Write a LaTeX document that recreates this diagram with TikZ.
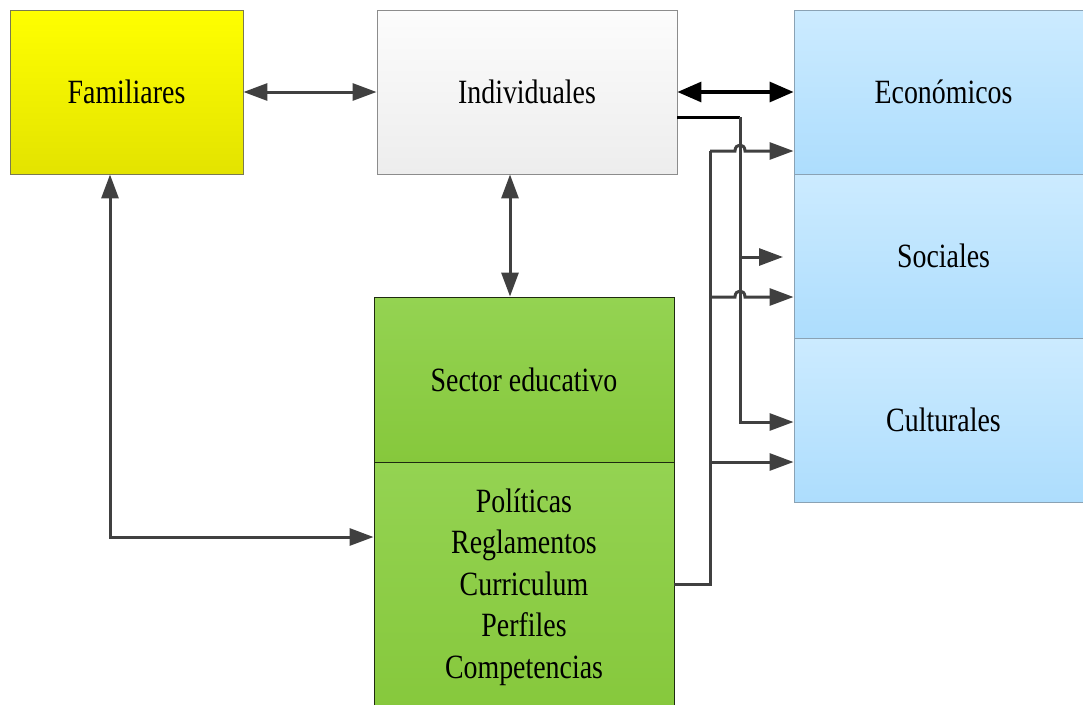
\documentclass[tikz,border=0pt]{standalone}
\usepackage{fontspec}
\setmainfont{Liberation Serif}[FakeStretch=0.82]
\usetikzlibrary{arrows.meta}
\definecolor{cgray}{HTML}{404040}
\definecolor{famtop}{HTML}{FFFF00}
\definecolor{fambot}{HTML}{E3E300}
\definecolor{famborder}{HTML}{7A7A50}
\definecolor{indtop}{HTML}{FCFCFC}
\definecolor{indbot}{HTML}{EDEDED}
\definecolor{indborder}{HTML}{8C8C8C}
\definecolor{blutop}{HTML}{CCEBFF}
\definecolor{blubot}{HTML}{ADDDFD}
\definecolor{bluborder}{HTML}{8AA2B4}
\definecolor{grntop}{HTML}{94D352}
\definecolor{grnbot}{HTML}{86C83C}
\definecolor{grnborder}{HTML}{1E2A10}
\begin{document}
\begin{tikzpicture}[x=1pt,y=-1pt,
  box/.style={draw, inner sep=0pt, line width=0.9pt, font=\fontsize{34}{41.5}\selectfont},
  fambox/.style={box, draw=famborder, top color=famtop, bottom color=fambot, minimum width=233pt, minimum height=164pt},
  indbox/.style={box, draw=indborder, top color=indtop, bottom color=indbot, minimum width=300pt, minimum height=164pt},
  blubox/.style={box, draw=bluborder, top color=blutop, bottom color=blubot, minimum width=299pt, minimum height=164pt},
  grnbox/.style={box, draw=grnborder, top color=grntop, bottom color=grnbot, minimum width=300pt},
  dline/.style={draw=cgray, line width=3pt},
  dconn/.style={dline, -{Triangle[length=24pt,width=17pt]}},
  dboth/.style={dline, {Triangle[length=24pt,width=17pt]}-{Triangle[length=24pt,width=17pt]}},
  bboth/.style={draw=black, line width=3.2pt, {Triangle[length=24pt,width=20pt]}-{Triangle[length=24pt,width=20pt]}}
]
\useasboundingbox (0,0) rectangle (1083,704);
\clip (0,0) rectangle (1083,704);

\node[fambox] (fam) at (126.5,92) {Familiares};
\node[indbox] (ind) at (527,92) {Individuales};
\node[blubox] (eco) at (943.5,92) {Económicos};
\node[blubox] (soc) at (943.5,256) {Sociales};
\node[blubox] (cul) at (943.5,420) {Culturales};
\node[grnbox, minimum height=165pt] (sec) at (524,379.5) {Sector educativo};
\node[grnbox, minimum height=250pt, align=center] (pol) at (524,587)
  {Políticas\\Reglamentos\\Curriculum\\Perfiles\\Competencias};

% connectors
\draw[dboth] (fam.east) -- (ind.west);
\draw[bboth] (ind.east) -- (eco.west);
\draw[dboth] ([xshift=-17pt]ind.south) -- ([xshift=-14pt]sec.north);
\draw[dboth] ([xshift=-16.5pt]fam.south) |- ([yshift=50pt]pol.west);

% from Individuales
\coordinate (j1) at (740,117);
\coordinate (s1) at (783,257);
\draw[draw=black, line width=3pt] ([yshift=-25pt]ind.east) -- (j1);
\draw[dconn] (j1) |- ([yshift=-2pt]cul.west);
\draw[dconn] (j1 |- s1) -- (s1);

% from Politicas
\coordinate (t1) at (710,151);
\coordinate (t2) at (710,297);
\coordinate (t3) at (710,462);
\draw[dline] ([yshift=3pt]pol.east) -| (t1);
\draw[dconn] (t1) -- (735,151) .. controls (735,143) and (745,143) .. (745,151) -- (eco.west |- t1);
\draw[dconn] (t2) -- (735,297) .. controls (735,289) and (745,289) .. (745,297) -- (soc.west |- t2);
\draw[dconn] (t3) -- (cul.west |- t3);
\end{tikzpicture}
\end{document}
